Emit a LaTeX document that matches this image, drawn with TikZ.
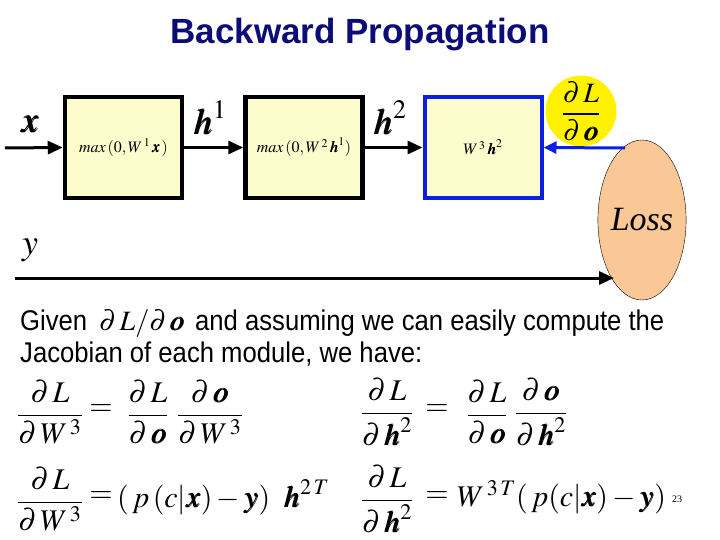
\documentclass[tikz,border=0pt]{standalone}
\usepackage{amsmath}
\usepackage{mathptmx}
\usepackage{bm}
\usepackage{fontspec}
\setmainfont{Liberation Serif}
\newfontfamily\titlesans{Liberation Sans}
\newfontfamily\narrowsans[FakeStretch=0.9]{Liberation Sans}
\usetikzlibrary{arrows.meta,shapes.geometric}
\definecolor{titleblue}{RGB}{12,12,120}
\definecolor{boxfill}{RGB}{253,252,204}
\definecolor{peach}{RGB}{250,200,150}
\definecolor{dlblue}{RGB}{10,30,230}
\newcommand{\pd}{\partial\,}
\tikzset{
  box/.style={draw=black, line width=4.5pt, fill=boxfill, minimum width=117pt, minimum height=101pt, inner sep=0pt, font=\fontsize{16}{19}\selectfont},
  bluebox/.style={box, draw=dlblue, line width=4pt},
  arr/.style={line width=3pt, -{Triangle[length=15pt,width=13pt]}},
  barr/.style={arr, draw=dlblue, -{Triangle[length=13pt,width=12pt,fill=dlblue]}},
  lbl/.style={inner sep=0pt, font=\fontsize{36}{40}\selectfont},
  body/.style={inner sep=0pt, anchor=base west, font=\narrowsans\fontsize{28.5}{32}\selectfont},
  eq/.style={inner sep=0pt, font=\fontsize{30}{34}\selectfont},
  eqw/.style={eq, anchor=west}
}
\begin{document}
\begin{tikzpicture}[x=1pt,y=-1pt]
\useasboundingbox (0,0) rectangle (720,540);
\node[inner sep=0pt, font=\titlesans\bfseries\fontsize{35}{40}\selectfont, text=titleblue] (title) at (360,35) {Backward Propagation};

\node[box] (b1) at (123.5,147.5) {$max\,(0,W^{\,1}\,\bm{x}\,)$};
\node[box] (b2) at (304,147.5) {$max\,(0,W^{\,2}\,\bm{h}^{1})$};
\node[bluebox] (b3) at (483,147.5) {$W^{\,3}\,\bm{h}^{2}$};

\node[ellipse, draw=black, thin, fill=peach, minimum width=80pt, minimum height=160pt, inner sep=0pt] (loss) at (642,220) {\fontsize{34}{40}\selectfont\itshape Loss};
\node[circle, fill=yellow, minimum size=67pt, inner sep=0pt, font=\fontsize{28}{32}\selectfont] (dl) at (581,111) {$\dfrac{\pd L}{\pd \bm{o}}$};

\coordinate (xin) at (5,148);
\coordinate (lossin) at (625,148);
\coordinate (yin) at (15,278);
\coordinate (yout) at (614,278);

\draw[arr] (xin) -- (b1.west);
\draw[arr] (b1.east) -- (b2.west);
\draw[arr] (b2.east) -- (b3.west);
\draw[barr] (lossin) -- (b3.east);
\draw[arr] (yin) -- (yout);

\node[lbl] (lx) at (30,124) {$\bm{x}$};
\node[lbl] (lh1) at (210,118) {$\bm{h}^{1}$};
\node[lbl] (lh2) at (390,118) {$\bm{h}^{2}$};
\node[lbl] (ly) at (30,250) {$y$};

\node[body] (given) at (20,330) {Given};
\node[inner sep=0pt, anchor=base west, font=\fontsize{28}{32}\selectfont] (gdl) at (99,330) {$\pd L/\pd \bm{o}$};
\node[body] (rest) at (195,330) {and assuming we can easily compute the};
\node[body] (jac) at (20,362) {Jacobian of each module, we have:};

% row 1 left
\node[eq] (f1) at (50,412) {$\dfrac{\pd L}{\pd W^{\,3}}$};
\node[eq] (q1) at (101,410) {$=$};
\node[eq] (f2) at (148,412) {$\dfrac{\pd L}{\pd \bm{o}}$};
\node[eq] (f3) at (210,412) {$\dfrac{\pd \bm{o}}{\pd W^{\,3}}$};
% row 1 right
\node[eq] (g1) at (387,412) {$\dfrac{\pd L}{\pd \bm{h}^{2}}$};
\node[eq] (q2) at (437,410) {$=$};
\node[eq] (g2) at (487,412) {$\dfrac{\pd L}{\pd \bm{o}}$};
\node[eq] (g3) at (541,412) {$\dfrac{\pd \bm{o}}{\pd \bm{h}^{2}}$};
% row 2 left
\node[eq] (f4) at (50,499) {$\dfrac{\pd L}{\pd W^{\,3}}$};
\node[eq] (q3) at (101,497) {$=$};
\node[eqw] (r3) at (117,497) {$(\,p\,(c|\bm{x})-\bm{y})\;\;\bm{h}^{2\,T}$};
% row 2 right
\node[eq] (g4) at (387,499) {$\dfrac{\pd L}{\pd \bm{h}^{2}}$};
\node[eq] (q4) at (437,497) {$=$};
\node[eqw] (r4) at (457,497) {$W^{\,3\,T}(\,p(c|\bm{x})-\bm{y})$};
\node[inner sep=0pt, font=\fontsize{10}{12}\selectfont] (pg) at (677,499) {23};
\end{tikzpicture}
\end{document}
